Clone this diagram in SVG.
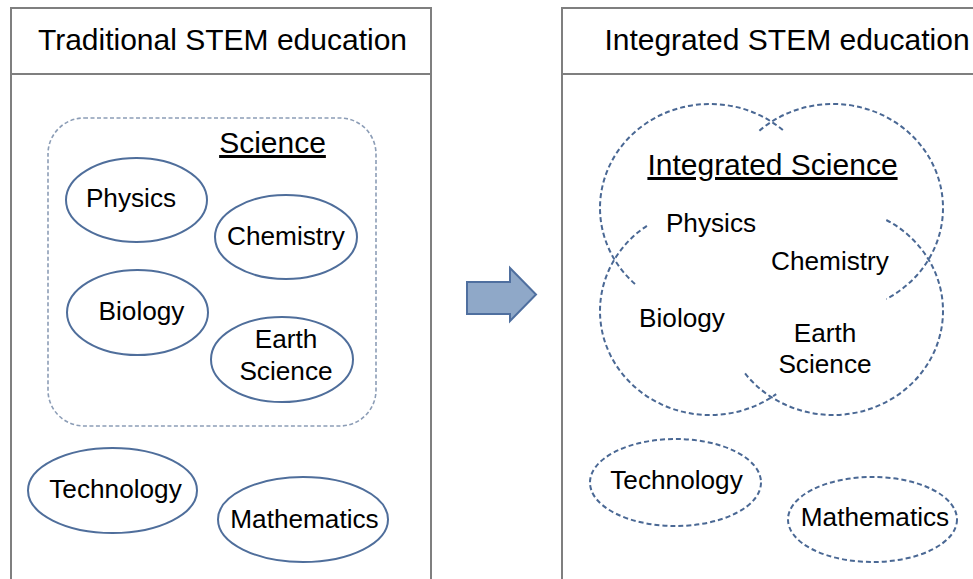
<svg xmlns="http://www.w3.org/2000/svg" width="973" height="579" viewBox="0 0 973 579">
  <style>
    text { font-family: "Liberation Sans", Arial, sans-serif; fill: #000; text-anchor: middle; }
    .title { font-size: 30px; }
    .item { font-size: 26.2px; }
    .ul { text-decoration: underline; }
    .panel { fill: #fff; stroke: #7f7f7f; stroke-width: 2; }
    .solid { fill: none; stroke: #4f6e9b; stroke-width: 2; }
    .dashed { fill: none; stroke: #4a6894; stroke-width: 2; stroke-dasharray: 5 3; }
    .group { fill: none; stroke: #8c9db6; stroke-width: 1.6; stroke-dasharray: 4 2.5; }
  </style>

  <rect width="973" height="579" fill="#fff"/>

  <!-- Left panel: traditional model -->
  <g id="panel-traditional">
    <rect class="panel" x="11" y="8" width="420" height="590"/>
    <line x1="11" y1="74" x2="431" y2="74" stroke="#7f7f7f" stroke-width="2"/>
    <text class="title" x="222.5" y="50">Traditional STEM education</text>
  </g>

  <g id="science-group">
    <rect class="group" x="48" y="118" width="328" height="308" rx="36" ry="36"/>
    <text class="title ul" x="272.5" y="153">Science</text>
  </g>

  <g id="trad-physics">
    <ellipse class="solid" cx="136.5" cy="200" rx="70.5" ry="42"/>
    <text class="item" x="131" y="207">Physics</text>
  </g>
  <g id="trad-chemistry">
    <ellipse class="solid" cx="286" cy="237" rx="71" ry="42"/>
    <text class="item" x="286" y="245">Chemistry</text>
  </g>
  <g id="trad-biology">
    <ellipse class="solid" cx="137.5" cy="312.5" rx="70.5" ry="42.5"/>
    <text class="item" x="141.5" y="320">Biology</text>
  </g>
  <g id="trad-earth-science">
    <ellipse class="solid" cx="282" cy="359.5" rx="71" ry="42.5"/>
    <text class="item" x="286" y="348">Earth</text>
    <text class="item" x="286" y="380">Science</text>
  </g>
  <g id="trad-technology">
    <ellipse class="solid" cx="112.5" cy="490.5" rx="84.5" ry="42.5"/>
    <text class="item" x="115.5" y="498">Technology</text>
  </g>
  <g id="trad-mathematics">
    <ellipse class="solid" cx="303" cy="519.5" rx="85" ry="42.5"/>
    <text class="item" x="304.5" y="528">Mathematics</text>
  </g>

  <!-- Transition arrow -->
  <g id="connectors">
    <polygon points="467,282 510,282 510,268 536,294.5 510,321 510,314 467,314"
             fill="#8fa8c8" stroke="#4f6f9f" stroke-width="2" stroke-linejoin="miter"/>
  </g>

  <!-- Right panel: integrated model -->
  <g id="panel-integrated">
    <rect class="panel" x="562" y="8" width="430" height="590"/>
    <line x1="562" y1="74" x2="980" y2="74" stroke="#7f7f7f" stroke-width="2"/>
    <text class="title" x="787" y="50">Integrated STEM education</text>
  </g>

  <!-- Four overlapping open rings of the integrated science cluster -->
  <g id="integrated-science">
    <path class="dashed" d="M635,284 A110,104 0 0 1 600,208 A110,104 0 0 1 783.6,130.7"/>
    <path class="dashed" d="M759.4,130.7 A110,104 0 0 1 943,208 A110,104 0 0 1 886.3,299"/>
    <path class="dashed" d="M646.9,225.8 A110,104 0 0 0 600,311 A110,104 0 0 0 776.2,394.1"/>
    <path class="dashed" d="M886.3,220 A110,104 0 0 1 943,311 A110,104 0 0 1 744,372.1"/>
    <text class="title ul" x="772.5" y="175">Integrated Science</text>
    <text class="item" x="711" y="232">Physics</text>
    <text class="item" x="830" y="270">Chemistry</text>
    <text class="item" x="682" y="327">Biology</text>
    <text class="item" x="825" y="342">Earth</text>
    <text class="item" x="825" y="373">Science</text>
  </g>

  <g id="int-technology">
    <ellipse class="dashed" cx="675.5" cy="482.5" rx="85.5" ry="43.5"/>
    <text class="item" x="676.5" y="489">Technology</text>
  </g>
  <g id="int-mathematics">
    <ellipse class="dashed" cx="872.5" cy="519.5" rx="84.5" ry="42.5"/>
    <text class="item" x="875" y="526">Mathematics</text>
  </g>
</svg>
